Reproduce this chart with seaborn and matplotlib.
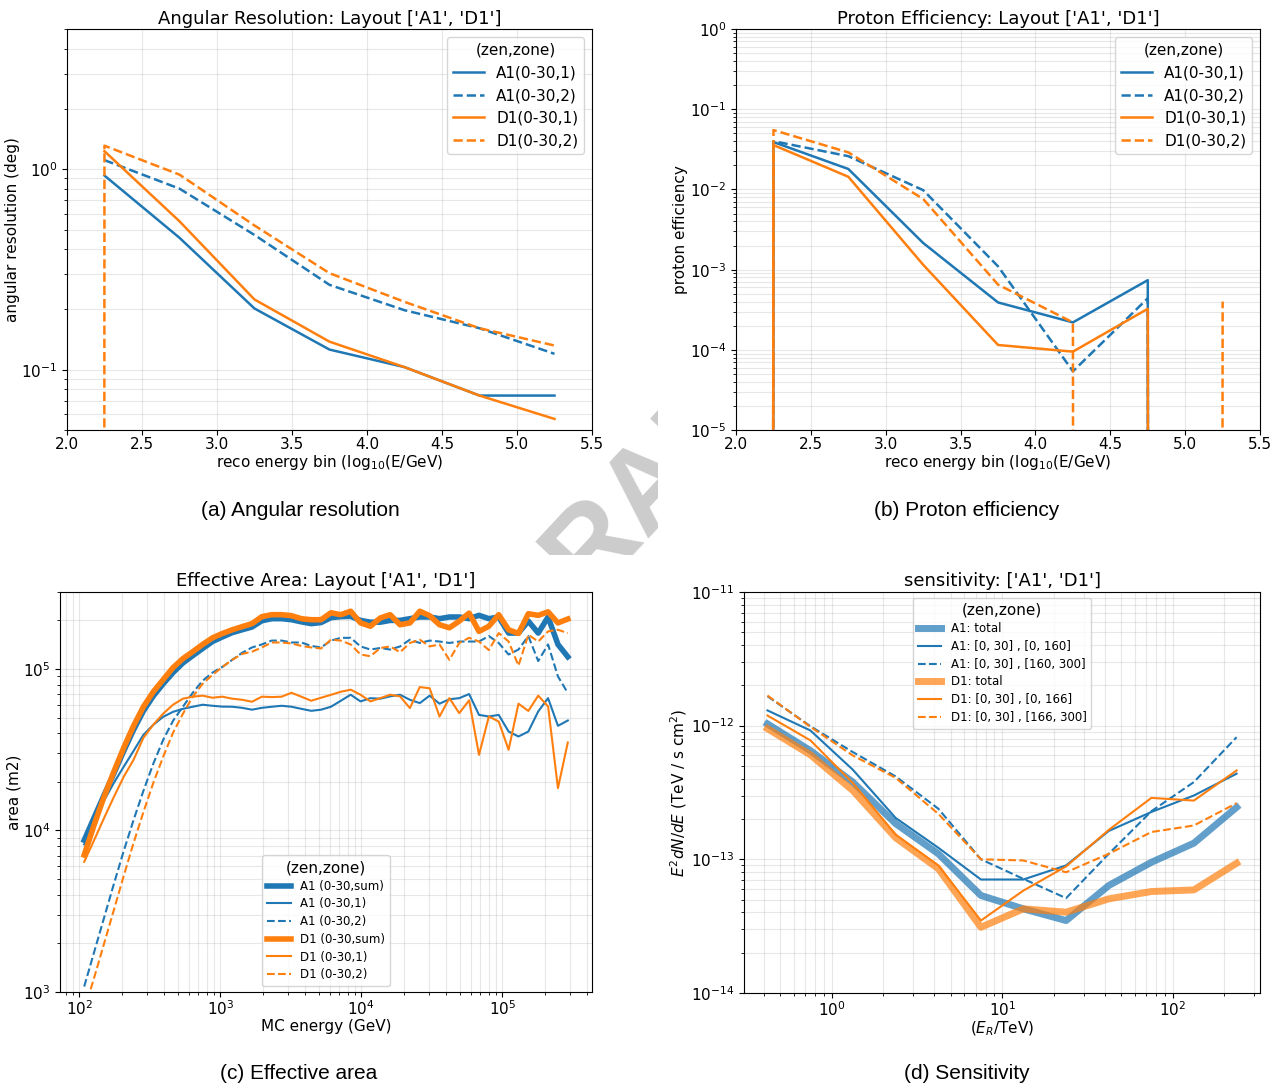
import numpy as np
import matplotlib
matplotlib.use("Agg")
import matplotlib.pyplot as plt
import seaborn as sns
from matplotlib.transforms import Bbox, TransformedBbox

nan = np.nan
blue = "#1f77b4"
orange = "#ff7f0e"

# --- (a) / (b): reco energy bins, log10(E/GeV)
reco_bin = [1.75, 2.25, 2.75, 3.25, 3.75, 4.25, 4.75, 5.25, 5.75]

angres_A1_z1 = [nan, 0.93, 0.455, 0.202, 0.126, 0.103, 0.0743, 0.0743, nan]
angres_A1_z2 = [nan, 1.11, 0.80, 0.47, 0.265, 0.198, 0.161, 0.12, nan]
angres_D1_z1 = [nan, 1.23, 0.55, 0.224, 0.138, 0.103, 0.0743, 0.0568, nan]
angres_D1_z2 = [0.0, 1.31, 0.94, 0.524, 0.303, 0.218, 0.161, 0.132, nan]

peff_A1_z1 = [0.0, 0.039, 0.018, 0.00215, 3.9e-4, 2.2e-4, 7.4e-4, 0.0, nan]
peff_A1_z2 = [0.0, 0.040, 0.026, 0.0098, 0.0011, 5.4e-5, 4.4e-4, 0.0, nan]
peff_D1_z1 = [0.0, 0.0358, 0.0144, 0.00115, 1.15e-4, 9.5e-5, 3.25e-4, 0.0, nan]
peff_D1_z2 = [0.0, 0.055, 0.029, 0.0076, 6.5e-4, 2.2e-4, 0.0, 4.0e-4, nan]

# --- (c): effective area vs MC energy (bin centres of a regular log grid)
mc_energy = 10 ** np.linspace(2.035, 5.465, 50)

area_A1_sum = [8.7e3, 1.2e4, 1.65e4, 2.25e4, 3.1e4, 4.2e4, 5.5e4, 6.8e4, 8.1e4, 9.5e4,
               1.09e5, 1.21e5, 1.34e5, 1.48e5, 1.58e5, 1.68e5, 1.75e5, 1.82e5, 1.99e5, 2.05e5,
               2.05e5, 2.02e5, 1.96e5, 1.91e5, 1.94e5, 2.08e5, 2.11e5, 2.12e5, 2.0e5, 1.95e5,
               1.95e5, 2.0e5, 2.0e5, 2.05e5, 2.1e5, 2.1e5, 2.05e5, 2.1e5, 2.1e5, 2.05e5,
               2.15e5, 2.05e5, 2.1e5, 1.67e5, 1.67e5, 1.98e5, 1.67e5, 2.1e5, 1.42e5, 1.19e5]
area_A1_z1 = [8.2e3, 1.13e4, 1.53e4, 1.97e4, 2.48e4, 3.11e4, 3.91e4, 4.51e4, 5.06e4, 5.43e4,
              5.67e4, 5.84e4, 6.01e4, 5.92e4, 5.85e4, 5.84e4, 5.75e4, 5.6e4, 5.75e4, 5.84e4,
              5.92e4, 5.84e4, 5.67e4, 5.51e4, 5.6e4, 5.84e4, 6.36e4, 6.93e4, 6.3e4, 6.6e4,
              6.55e4, 6.77e4, 6.93e4, 6.45e4, 6.15e4, 6.84e4, 6.1e4, 6.5e4, 6.6e4, 7.0e4,
              5.2e4, 5.08e4, 5.2e4, 4.1e4, 3.82e4, 4.1e4, 5.46e4, 6.6e4, 4.45e4, 4.8e4]
area_A1_z2 = [1.08e3, 1.76e3, 2.86e3, 4.65e3, 7.45e3, 1.16e4, 1.76e4, 2.59e4, 3.64e4, 4.78e4,
              5.84e4, 7.13e4, 8.46e4, 9.5e4, 1.03e5, 1.14e5, 1.26e5, 1.36e5, 1.42e5, 1.5e5,
              1.5e5, 1.46e5, 1.46e5, 1.39e5, 1.36e5, 1.5e5, 1.56e5, 1.56e5, 1.38e5, 1.32e5,
              1.35e5, 1.32e5, 1.38e5, 1.52e5, 1.45e5, 1.5e5, 1.48e5, 1.45e5, 1.48e5, 1.48e5,
              1.48e5, 1.6e5, 1.45e5, 1.23e5, 1.32e5, 1.6e5, 1.12e5, 1.42e5, 9.0e4, 7.1e4]
area_D1_sum = [7.05e3, 1.08e4, 1.61e4, 2.31e4, 3.25e4, 4.45e4, 5.84e4, 7.23e4, 8.59e4, 1.02e5,
               1.16e5, 1.28e5, 1.42e5, 1.56e5, 1.66e5, 1.75e5, 1.83e5, 1.91e5, 2.11e5, 2.17e5,
               2.17e5, 2.14e5, 2.05e5, 2.02e5, 2.02e5, 2.23e5, 2.17e5, 2.28e5, 1.93e5, 1.84e5,
               2.07e5, 2.17e5, 1.88e5, 1.93e5, 2.28e5, 2.14e5, 1.88e5, 1.8e5, 1.98e5, 2.22e5,
               1.71e5, 1.84e5, 2.17e5, 1.75e5, 1.66e5, 2.2e5, 2.15e5, 2.26e5, 1.93e5, 2.04e5]
area_D1_z1 = [6.4e3, 8.7e3, 1.19e4, 1.61e4, 2.15e4, 2.74e4, 3.75e4, 4.52e4, 5.29e4, 6.01e4,
              6.55e4, 6.74e4, 6.84e4, 6.64e4, 6.74e4, 6.55e4, 6.45e4, 6.27e4, 6.74e4, 6.7e4,
              6.74e4, 7.13e4, 6.74e4, 6.36e4, 6.64e4, 6.92e4, 7.23e4, 7.45e4, 6.93e4, 6.3e4,
              6.6e4, 6.93e4, 6.77e4, 5.73e4, 7.73e4, 7.6e4, 5.08e4, 6.6e4, 5.33e4, 6.4e4,
              2.94e4, 5.08e4, 4.73e4, 3.16e4, 6.1e4, 5.5e4, 6.84e4, 5.87e4, 1.83e4, 3.51e4]
area_D1_z2 = [7.7e2, 1.22e3, 1.98e3, 3.21e3, 5.22e3, 8.37e3, 1.3e4, 1.97e4, 2.86e4, 4.03e4,
              5.28e4, 6.74e4, 8.1e4, 9.2e4, 1.03e5, 1.14e5, 1.24e5, 1.28e5, 1.36e5, 1.46e5,
              1.46e5, 1.44e5, 1.39e5, 1.36e5, 1.34e5, 1.52e5, 1.5e5, 1.42e5, 1.23e5, 1.2e5,
              1.35e5, 1.38e5, 1.27e5, 1.45e5, 1.52e5, 1.38e5, 1.42e5, 1.14e5, 1.45e5, 1.56e5,
              1.48e5, 1.31e5, 1.67e5, 1.48e5, 1.05e5, 1.63e5, 1.48e5, 1.71e5, 1.75e5, 1.67e5]

# --- (d): sensitivity
sens_energy = [0.42, 0.75, 1.33, 2.37, 4.22, 7.5, 13.3, 23.7, 42.2, 75.0, 133.0, 237.0]

sens_A1_tot = [1.03e-12, 6.5e-13, 3.78e-13, 1.85e-13, 1.1e-13, 5.36e-14,
               4.26e-14, 3.48e-14, 6.37e-14, 9.5e-14, 1.32e-13, 2.45e-13]
sens_A1_z1 = [1.3e-12, 9.2e-13, 4.68e-13, 2.04e-13, 1.22e-13, 7.06e-14,
              7.06e-14, 9.0e-14, 1.63e-13, 2.26e-13, 3.0e-13, 4.37e-13]
sens_A1_z2 = [1.66e-12, 9.9e-13, 6.34e-13, 4.17e-13, 2.39e-13, 1.0e-13,
              7.14e-14, 5.12e-14, 1.1e-13, 2.29e-13, 3.78e-13, 8.2e-13]
sens_D1_tot = [9.5e-13, 6.05e-13, 3.27e-13, 1.45e-13, 8.5e-14, 3.1e-14,
               4.26e-14, 4.02e-14, 5.06e-14, 5.74e-14, 5.9e-14, 9.35e-14]
sens_D1_z1 = [1.19e-12, 7.76e-13, 3.72e-13, 1.53e-13, 9.0e-14, 3.48e-14,
              5.83e-14, 8.84e-14, 1.66e-13, 2.88e-13, 2.75e-13, 4.62e-13]
sens_D1_z2 = [1.68e-12, 9.8e-13, 5.98e-13, 4.07e-13, 2.19e-13, 1.0e-13,
              9.8e-14, 8.0e-14, 1.1e-13, 1.6e-13, 1.79e-13, 2.63e-13]

plt.rcParams.update({
    "xtick.labelsize": 11, "ytick.labelsize": 11,
    "axes.labelsize": 11, "axes.titlesize": 13, "axes.titlepad": 4,
    "xtick.major.pad": 1.5,
    "legend.fontsize": 11, "legend.title_fontsize": 11,
})

fig = plt.figure(figsize=(12.85, 10.89), dpi=100)
ax_a = fig.add_axes([0.0521, 0.6051, 0.4086, 0.3682])
ax_b = fig.add_axes([0.5728, 0.6051, 0.4078, 0.3682])
ax_c = fig.add_axes([0.0467, 0.0891, 0.4140, 0.3673])
ax_d = fig.add_axes([0.5790, 0.0882, 0.4016, 0.3682])


def line(ax, x, y, color, ls="-", lw=1.8, label=None, alpha=1.0):
    sns.lineplot(x=x, y=y, ax=ax, color=color, linestyle=ls, linewidth=lw,
                 label=label, alpha=alpha, estimator=None)


# (a) angular resolution
line(ax_a, reco_bin, angres_A1_z1, blue, "-", label="A1(0-30,1)")
line(ax_a, reco_bin, angres_A1_z2, blue, "--", label="A1(0-30,2)")
line(ax_a, reco_bin, angres_D1_z1, orange, "-", label="D1(0-30,1)")
line(ax_a, reco_bin, angres_D1_z2, orange, "--", label="D1(0-30,2)")
ax_a.set_yscale("log")
ax_a.set_xlim(2.0, 5.5)
ax_a.set_ylim(0.05, 5)
ax_a.set_title("Angular Resolution: Layout ['A1', 'D1']")
ax_a.set_xlabel("reco energy bin (log$_{10}$(E/GeV)")
ax_a.set_ylabel("angular resolution (deg)")
ax_a.legend(title="(zen,zone)", loc="upper right")

# (b) proton efficiency
line(ax_b, reco_bin, peff_A1_z1, blue, "-", label="A1(0-30,1)")
line(ax_b, reco_bin, peff_A1_z2, blue, "--", label="A1(0-30,2)")
line(ax_b, reco_bin, peff_D1_z1, orange, "-", label="D1(0-30,1)")
line(ax_b, reco_bin, peff_D1_z2, orange, "--", label="D1(0-30,2)")
ax_b.set_yscale("log")
ax_b.set_xlim(2.0, 5.5)
ax_b.set_ylim(1e-5, 1)
ax_b.set_title("Proton Efficiency: Layout ['A1', 'D1']")
ax_b.set_xlabel("reco energy bin (log$_{10}$(E/GeV)")
ax_b.set_ylabel("proton efficiency")
ax_b.legend(title="(zen,zone)", loc="upper right")

# (c) effective area
line(ax_c, mc_energy, area_A1_sum, blue, "-", lw=4, label="A1 (0-30,sum)")
line(ax_c, mc_energy, area_A1_z1, blue, "-", lw=1.5, label="A1 (0-30,1)")
line(ax_c, mc_energy, area_A1_z2, blue, "--", lw=1.5, label="A1 (0-30,2)")
line(ax_c, mc_energy, area_D1_sum, orange, "-", lw=4, label="D1 (0-30,sum)")
line(ax_c, mc_energy, area_D1_z1, orange, "-", lw=1.5, label="D1 (0-30,1)")
line(ax_c, mc_energy, area_D1_z2, orange, "--", lw=1.5, label="D1 (0-30,2)")
ax_c.set_xscale("log")
ax_c.set_yscale("log")
ax_c.autoscale(axis="x")
ax_c.set_ylim(1e3, 3e5)
ax_c.set_title("Effective Area: Layout ['A1', 'D1']")
ax_c.set_xlabel("MC energy (GeV)")
ax_c.set_ylabel("area (m2)")
ax_c.legend(title="(zen,zone)", loc="lower center", fontsize=8.5, labelspacing=0.4)

# (d) sensitivity
line(ax_d, sens_energy, sens_A1_tot, blue, "-", lw=5, alpha=0.7, label="A1: total")
line(ax_d, sens_energy, sens_A1_z1, blue, "-", lw=1.5, label="A1: [0, 30] , [0, 160]")
line(ax_d, sens_energy, sens_A1_z2, blue, "--", lw=1.5, label="A1: [0, 30] , [160, 300]")
line(ax_d, sens_energy, sens_D1_tot, orange, "-", lw=5, alpha=0.7, label="D1: total")
line(ax_d, sens_energy, sens_D1_z1, orange, "-", lw=1.5, label="D1: [0, 30] , [0, 166]")
line(ax_d, sens_energy, sens_D1_z2, orange, "--", lw=1.5, label="D1: [0, 30] , [166, 300]")
ax_d.set_xscale("log")
ax_d.set_yscale("log")
ax_d.autoscale(axis="x")
ax_d.set_ylim(1e-14, 1e-11)
ax_d.set_title("sensitivity: ['A1', 'D1']")
ax_d.set_xlabel("($E_R$/TeV)")
ax_d.set_ylabel("$E^2dN/dE$ (TeV / s cm$^2$)")
ax_d.legend(title="(zen,zone)", loc="upper center", fontsize=8.5, labelspacing=0.4)

for ax in (ax_a, ax_b, ax_c, ax_d):
    ax.grid(True, which="both", alpha=0.3)
    ax.xaxis.labelpad = 1
    ax.yaxis.labelpad = 1

# sub-figure captions
cap = dict(ha="center", va="center", fontsize=15, family="Liberation Sans")
fig.text(0.2335, 0.5308, "(a) Angular resolution", **cap)
fig.text(0.7525, 0.5308, "(b) Proton efficiency", **cap)
fig.text(0.2327, 0.0138, "(c) Effective area", **cap)
fig.text(0.7525, 0.0138, "(d) Sensitivity", **cap)

# watermark, only visible in the gap between the panels
wm = fig.text(0.5004, 0.5473, "DRAFT", fontsize=84, color="#cccccc", rotation=47,
              ha="center", va="center", family="Liberation Sans", weight="bold",
              zorder=-1)
wm.set_clip_box(TransformedBbox(Bbox([[0, 0.4904], [0.512, 1.0]]), fig.transFigure))

fig.savefig("out.png", dpi=100)
